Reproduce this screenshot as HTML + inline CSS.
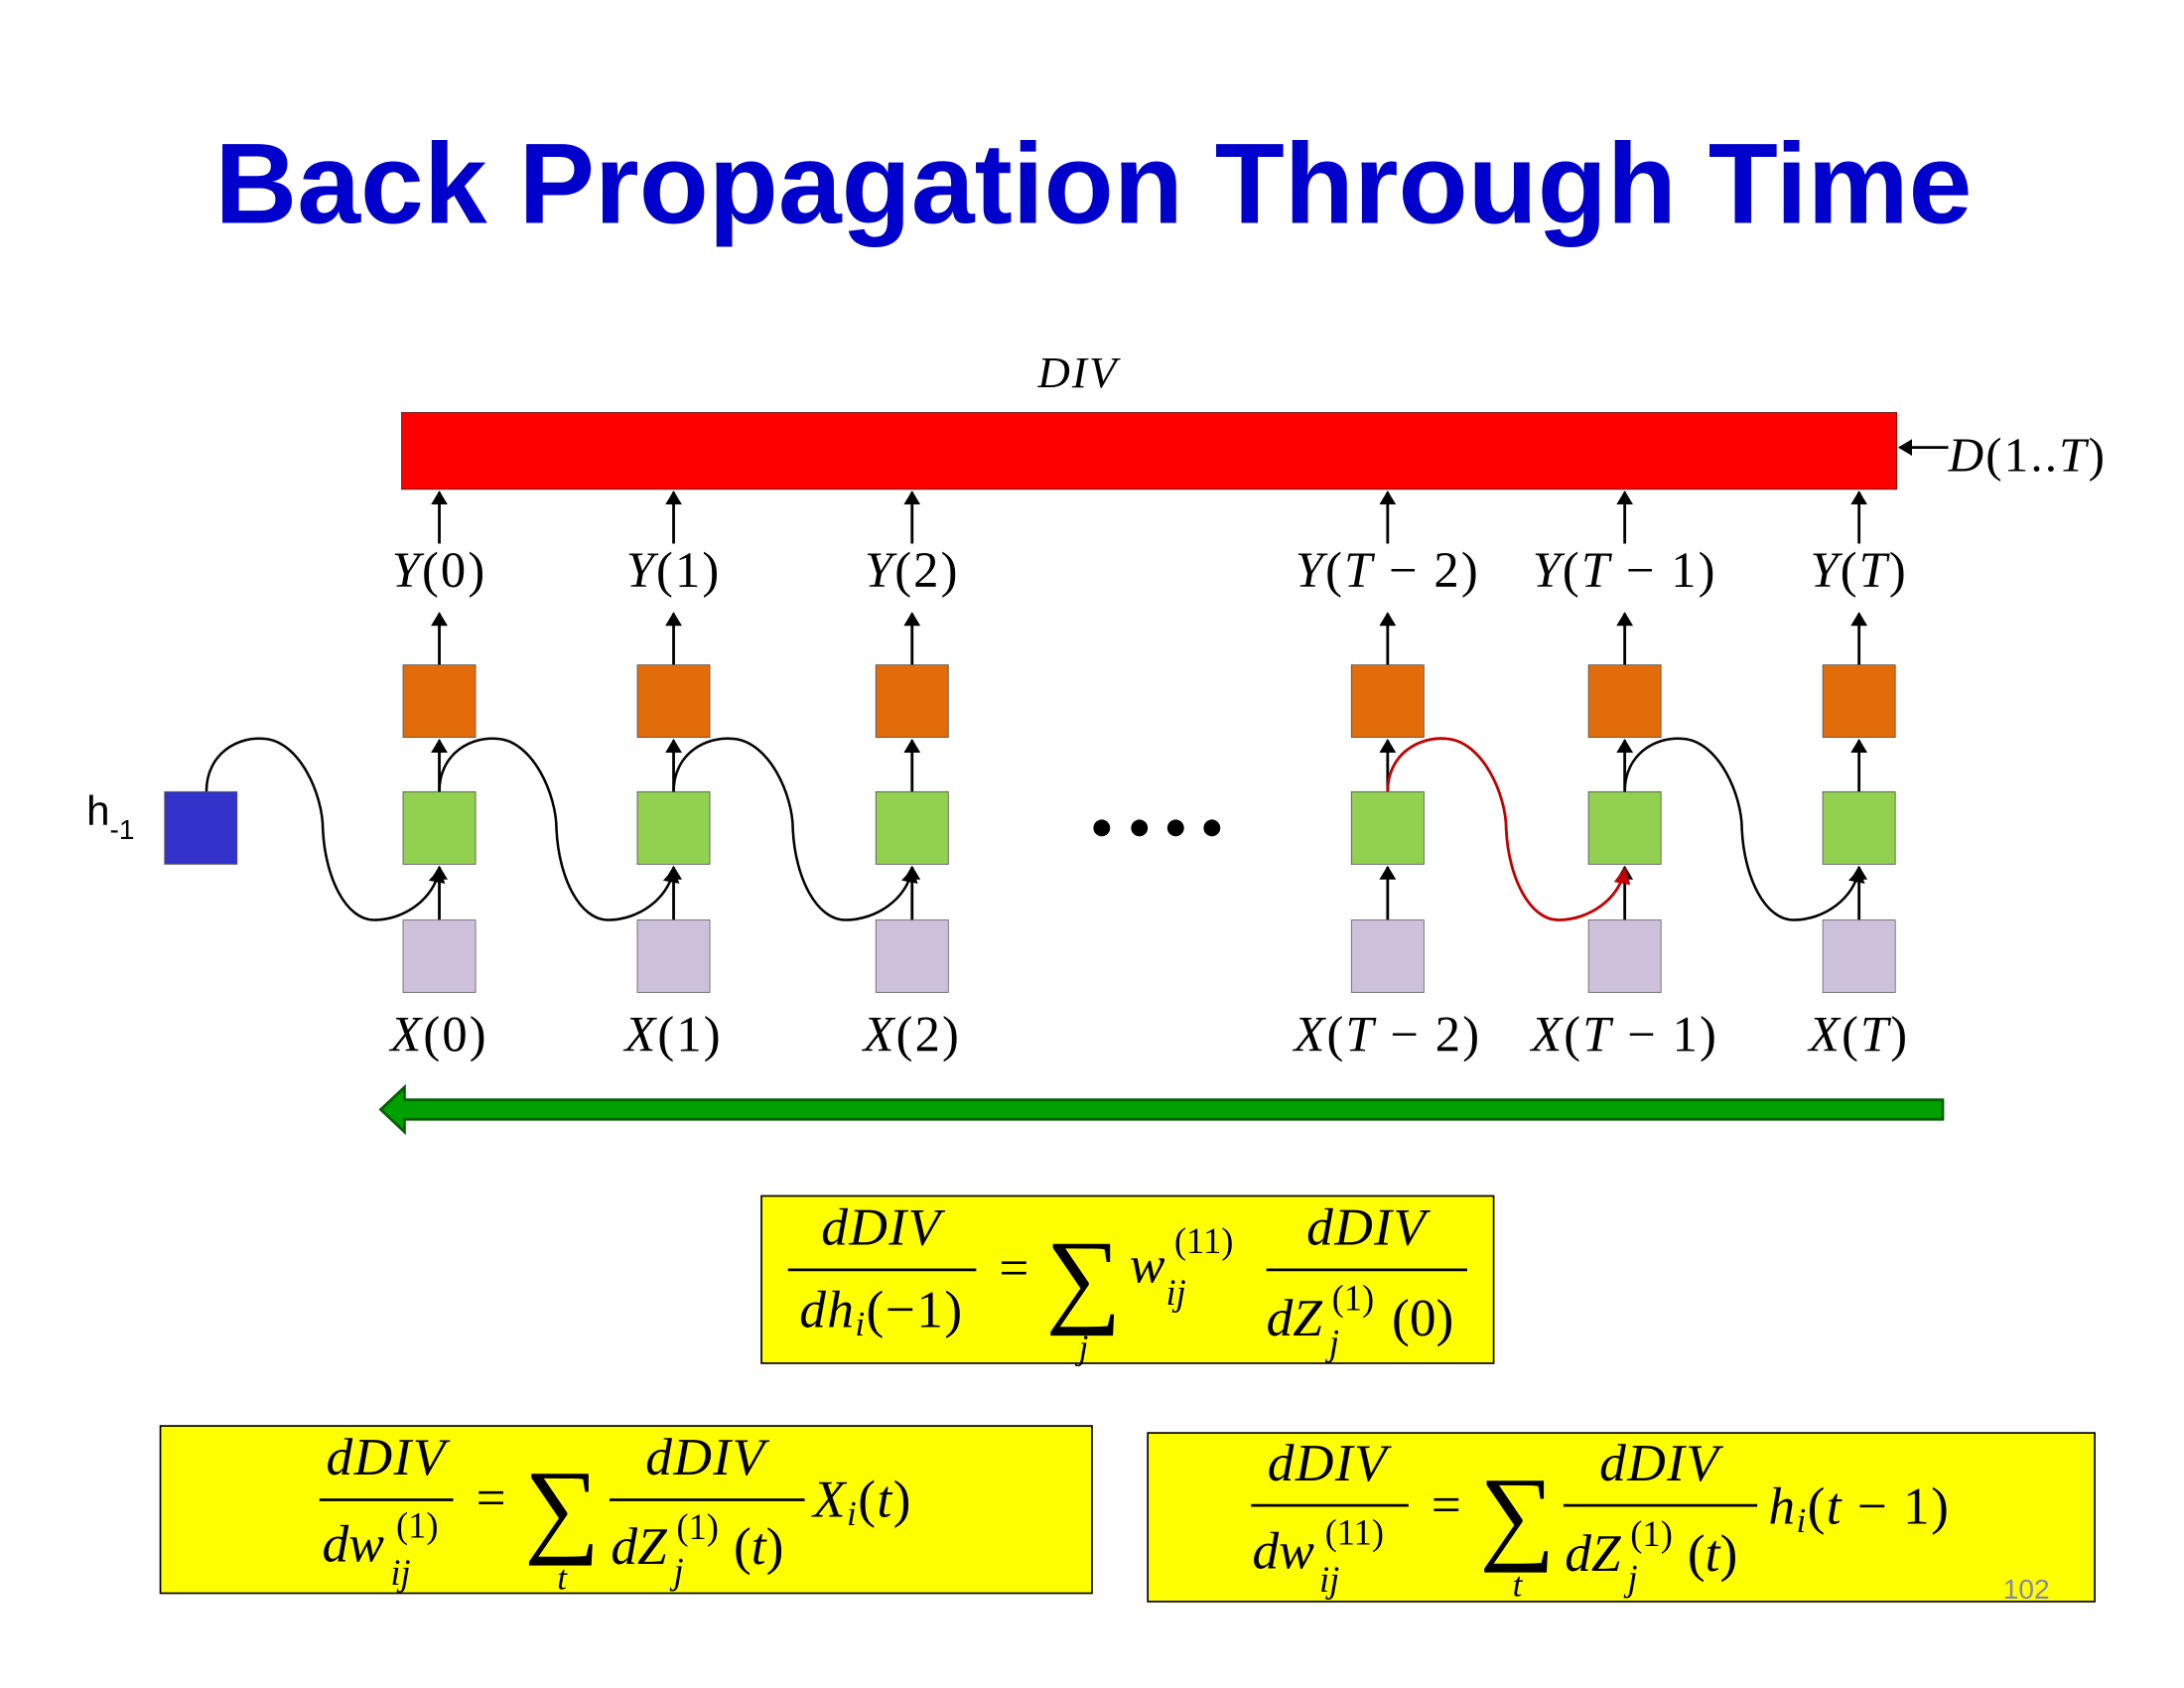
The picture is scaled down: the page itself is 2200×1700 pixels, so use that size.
<!DOCTYPE html>
<html><head><meta charset="utf-8"><style>
html,body{margin:0;padding:0;background:#fff;}
svg{display:block;}
.m{font-family:"Liberation Serif","DejaVu Serif",serif;font-style:italic;}
.r{font-family:"Liberation Serif","DejaVu Serif",serif;}
</style></head><body>
<svg id="s" width="2200" height="1700" viewBox="0 0 1566 1211" preserveAspectRatio="none" xmlns="http://www.w3.org/2000/svg">
<defs>
<marker id="ah" markerWidth="10" markerHeight="12" refX="9" refY="6" orient="auto" markerUnits="userSpaceOnUse"><path d="M0,0 L10,6 L0,12 Z" fill="#000"/></marker>
<marker id="ahr" markerWidth="12" markerHeight="12" refX="10" refY="6" orient="auto" markerUnits="userSpaceOnUse"><path d="M0,0 L12,6 L0,12 Z" fill="#c00000"/></marker>
</defs>
<rect width="1566" height="1211" fill="#fff"/>
<text x="784" y="160" text-anchor="middle" font-family="Liberation Sans, sans-serif" font-weight="bold" font-size="82" fill="#0000CC" textLength="1260" lengthAdjust="spacingAndGlyphs">Back Propagation Through Time</text>
<text x="773" y="278" text-anchor="middle" class="m" font-size="32" letter-spacing="1.5">DIV</text>
<rect x="288" y="296" width="1072" height="55" fill="#ff0000" stroke="#600" stroke-width="0.6"/>
<line x1="1397" y1="321" x2="1362" y2="321" stroke="#000" stroke-width="2" marker-end="url(#ah)"/>
<text x="1397" y="338" class="m" font-size="35" letter-spacing="1.5">D<tspan class="r" font-style="normal">(1..</tspan>T<tspan class="r" font-style="normal">)</tspan></text>
<g id="cols"></g>
<rect x="118" y="568" width="52" height="52" fill="#3333CC" stroke="#555" stroke-width="0.6"/>
<text x="62" y="592" font-family="Liberation Sans, sans-serif" font-size="30">h<tspan font-size="20" dy="10">-1</tspan></text>
<g>
<circle cx="790" cy="594" r="6"/><circle cx="817" cy="594" r="6"/><circle cx="843" cy="594" r="6"/><circle cx="869" cy="594" r="6"/>
</g>
<path d="M1393,789 L290,789 L290,780 L273,796 L290,812 L290,803 L1393,803 Z" fill="#00a000" stroke="#006000" stroke-width="2"/>

<g>
<rect x="546" y="858" width="525" height="120" fill="#ffff00" stroke="#000" stroke-width="1.2"/>
<text x="632" y="893" text-anchor="middle" class="m" font-size="38" letter-spacing="1">dDIV</text>
<line x1="565" y1="911" x2="700" y2="911" stroke="#000" stroke-width="2"/>
<text x="632" y="952" text-anchor="middle" class="m" font-size="38" letter-spacing="1">dh<tspan font-size="25" dy="6">i</tspan><tspan class="r" font-style="normal" dy="-6">(−1)</tspan></text>
<text x="727" y="922" text-anchor="middle" class="r" font-size="38">=</text>
<text x="777" y="942" text-anchor="middle" class="r" font-size="76">∑</text>
<text x="777" y="975" text-anchor="middle" class="m" font-size="25">j</text>
<text x="810" y="920" class="m" font-size="38">w</text>
<text x="842" y="899" class="r" font-size="26">(11)</text>
<text x="836" y="936" class="m" font-size="26">ij</text>
<text x="980" y="893" text-anchor="middle" class="m" font-size="38" letter-spacing="1">dDIV</text>
<line x1="908" y1="911" x2="1052" y2="911" stroke="#000" stroke-width="2"/>
<text x="908" y="958" class="m" font-size="38">dZ</text>
<text x="955" y="940" class="r" font-size="26">(1)</text>
<text x="953" y="972" class="m" font-size="26">j</text>
<text x="998" y="958" class="r" font-size="38">(0)</text>
</g>

<g>
<rect x="115" y="1023" width="668" height="120" fill="#ffff00" stroke="#000" stroke-width="1.2"/>
<text x="277" y="1058" text-anchor="middle" class="m" font-size="38" letter-spacing="1">dDIV</text>
<line x1="229" y1="1076" x2="325" y2="1076" stroke="#000" stroke-width="2"/>
<text x="231" y="1120" class="m" font-size="38">dw</text>
<text x="284" y="1103" class="r" font-size="26">(1)</text>
<text x="280" y="1137" class="m" font-size="26">ij</text>
<text x="352" y="1087" text-anchor="middle" class="r" font-size="38">=</text>
<text x="403" y="1107" text-anchor="middle" class="r" font-size="76">∑</text>
<text x="403" y="1140" text-anchor="middle" class="m" font-size="25">t</text>
<text x="506" y="1058" text-anchor="middle" class="m" font-size="38" letter-spacing="1">dDIV</text>
<line x1="437" y1="1076" x2="577" y2="1076" stroke="#000" stroke-width="2"/>
<text x="438" y="1122" class="m" font-size="38">dZ</text>
<text x="485" y="1104" class="r" font-size="26">(1)</text>
<text x="483" y="1136" class="m" font-size="26">j</text>
<text x="526" y="1122" class="r" font-size="38">(<tspan class="m">t</tspan>)</text>
<text x="583" y="1088" class="m" font-size="38" letter-spacing="1">X<tspan font-size="25" dy="6">i</tspan><tspan class="r" font-style="normal" dy="-6">(</tspan>t<tspan class="r" font-style="normal">)</tspan></text>
</g>

<g>
<rect x="823" y="1028" width="679" height="121" fill="#ffff00" stroke="#000" stroke-width="1.2"/>
<text x="952" y="1062" text-anchor="middle" class="m" font-size="38" letter-spacing="1">dDIV</text>
<line x1="897" y1="1080" x2="1010" y2="1080" stroke="#000" stroke-width="2"/>
<text x="898" y="1125" class="m" font-size="38">dw</text>
<text x="950" y="1108" class="r" font-size="26">(11)</text>
<text x="946" y="1142" class="m" font-size="26">ij</text>
<text x="1037" y="1092" text-anchor="middle" class="r" font-size="38">=</text>
<text x="1088" y="1112" text-anchor="middle" class="r" font-size="76">∑</text>
<text x="1088" y="1145" text-anchor="middle" class="m" font-size="25">t</text>
<text x="1190" y="1062" text-anchor="middle" class="m" font-size="38" letter-spacing="1">dDIV</text>
<line x1="1121" y1="1080" x2="1260" y2="1080" stroke="#000" stroke-width="2"/>
<text x="1122" y="1127" class="m" font-size="38">dZ</text>
<text x="1169" y="1109" class="r" font-size="26">(1)</text>
<text x="1167" y="1141" class="m" font-size="26">j</text>
<text x="1210" y="1127" class="r" font-size="38">(<tspan class="m">t</tspan>)</text>
<text x="1268" y="1093" class="m" font-size="38" letter-spacing="1">h<tspan font-size="25" dy="6">i</tspan><tspan class="r" font-style="normal" dy="-6">(</tspan>t<tspan class="r" font-style="normal"> − 1)</tspan></text>
</g>
<text x="1453" y="1147" text-anchor="middle" font-family="Liberation Sans, sans-serif" font-size="20" fill="#8888aa">102</text>
</svg>
<script>
var labels = ["0","1","2","T − 2","T − 1","T"];
var centers = [315,483,654,995,1165,1333];
var NS = "http://www.w3.org/2000/svg";
var g = document.getElementById("cols");
function mk(tag, attrs){var e=document.createElementNS(NS,tag);for(var k in attrs)e.setAttribute(k,attrs[k]);g.appendChild(e);return e;}
function lab(txt, letter, x, y){
  var t=mk("text",{x:x,y:y,"text-anchor":"middle","class":"m","font-size":"36","letter-spacing":"1.5"});
  var parts=txt.split(" ");
  var s=letter+"<tspan class='r' font-style='normal'>(</tspan>";
  parts.forEach(function(p,i){
    if(p==="T") s+="T"; else if(p==="−") s+="<tspan class='r' font-style='normal'> − </tspan>"; else s+="<tspan class='r' font-style='normal'>"+p+"</tspan>";
  });
  s+="<tspan class='r' font-style='normal'>)</tspan>";
  t.innerHTML=s;
  return t;
}
function curve(x0, x1, red){
  var d=(x1-x0);
  var p="M"+x0+",568 C"+x0+",540 "+(x0+d*0.14)+",528 "+(x0+d*0.25)+",530 C"+(x0+d*0.4)+",532 "+(x0+d*0.5)+",570 "+(x0+d*0.5)+",595 C"+(x0+d*0.51)+",630 "+(x0+d*0.6)+",660 "+(x0+d*0.72)+",660 C"+(x0+d*0.85)+",660 "+(x1-4)+",645 "+x1+",624";
  var e=mk("path",{d:p,fill:"none",stroke:red?"#c00000":"#000","stroke-width":red?2:1.8,"marker-end":red?"url(#ahr)":"url(#ah)"});
  return e;
}
labels.forEach(function(l,i){
  var cx=centers[i];
  var e;
  e=mk("line",{x1:cx,y1:390,x2:cx,y2:353,stroke:"#000","stroke-width":2,"marker-end":"url(#ah)"});
  
  
  e=lab(l,"Y",cx,421);
  
  
  e=mk("line",{x1:cx,y1:477,x2:cx,y2:440,stroke:"#000","stroke-width":2,"marker-end":"url(#ah)"});
  
  
  e=mk("rect",{x:cx-26,y:477,width:52,height:52,fill:"#E36C0A",stroke:"#555","stroke-width":0.6});
  
  
  e=mk("line",{x1:cx,y1:568,x2:cx,y2:531,stroke:"#000","stroke-width":2,"marker-end":"url(#ah)"});
  
  
  e=mk("rect",{x:cx-26,y:568,width:52,height:52,fill:"#92D050",stroke:"#555","stroke-width":0.6});
  
  
  e=mk("line",{x1:cx,y1:660,x2:cx,y2:622,stroke:"#000","stroke-width":2,"marker-end":"url(#ah)"});
  
  
  e=mk("rect",{x:cx-26,y:660,width:52,height:52,fill:"#CCC0DA",stroke:"#666","stroke-width":0.6});
  
  
  e=lab(l,"X",cx,754);
  
  
});
var e=curve(148,centers[0],false);


for(var i=0;i<centers.length-1;i++){
  if(i===2) continue;
  var red=(i===3);
  e=curve(centers[i],centers[i+1],red);
  
  
}
</script>
</body></html>
